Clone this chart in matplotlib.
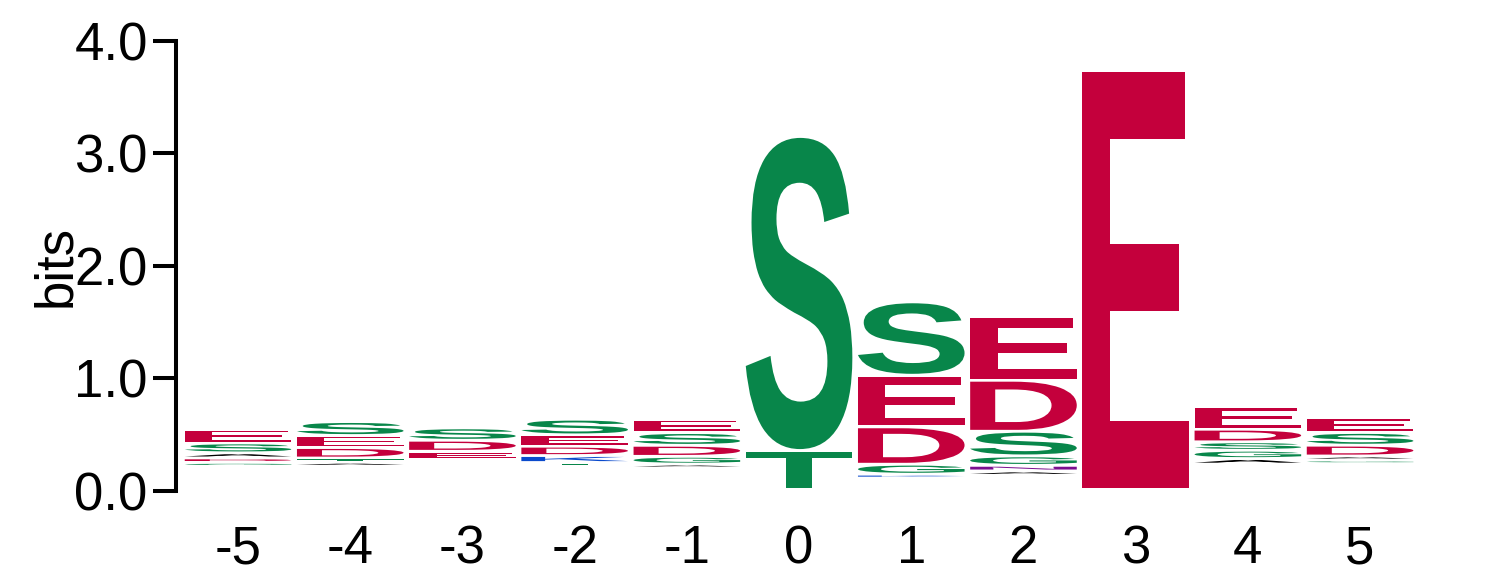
import matplotlib
matplotlib.use("Agg")
import matplotlib.pyplot as plt
from matplotlib.textpath import TextPath
from matplotlib.font_manager import FontProperties
from matplotlib.patches import PathPatch
from matplotlib.transforms import Affine2D

positions = [-5, -4, -3, -2, -1, 0, 1, 2, 3, 4, 5]

# residues in each stack, bottom -> top
letters = [
    ["G", "D", "A", "S", "E"],
    ["A", "T", "D", "E", "S"],
    ["E", "D", "S"],
    ["T", "K", "D", "E", "S"],
    ["A", "G", "D", "S", "E"],
    ["T", "S"],
    ["K", "G", "D", "E", "S"],
    ["T", "A", "N", "G", "S", "D", "E"],
    ["E"],
    ["A", "G", "S", "D", "E"],
    ["G", "A", "D", "S", "E"],
]

# letter heights in bits, same order
heights = [
    [0.035, 0.040, 0.045, 0.088, 0.122],
    [0.036, 0.038, 0.093, 0.107, 0.124],
    [0.075, 0.098, 0.110],
    [0.034, 0.062, 0.083, 0.101, 0.139],
    [0.034, 0.069, 0.098, 0.113, 0.118],
    [0.345, 2.791],
    [0.034, 0.089, 0.332, 0.459, 0.652],
    [0.030, 0.039, 0.050, 0.084, 0.219, 0.453, 0.564],
    [3.723],
    [0.049, 0.074, 0.075, 0.112, 0.199],
    [0.032, 0.036, 0.096, 0.113, 0.133],
]

# bits held by residues too small to be drawn
minor_bits = [0.204, 0.204, 0.263, 0.204, 0.190, 0.0, 0.100, 0.094, 0.0, 0.224, 0.228]

ytick_vals = [0, 1, 2, 3, 4]
ytick_labels = ["0.0", "1.0", "2.0", "3.0", "4.0"]
xtick_labels = ["-5", "-4", "-3", "-2", "-1", "0", "1", "2", "3", "4", "5"]

RED = "#C4003C"
GREEN = "#08864A"
BLUE = "#0A4ACC"
PURPLE = "#7A0E8F"
BLACK = "#000000"
colors = {}
for c in "STGYC":
    colors[c] = GREEN
for c in "NQ":
    colors[c] = PURPLE
for c in "KRH":
    colors[c] = BLUE
for c in "DE":
    colors[c] = RED

font = FontProperties(family="Liberation Sans", weight="bold")
gap = 0.025
width = 0.95


def draw_letter(ax, ch, x, y, h):
    # glyph sits at the top of its box, leaving a small gap underneath
    glyph_h = h - gap
    if glyph_h <= 0:
        return
    tp = TextPath((0, 0), ch, size=1, prop=font)
    bb = tp.get_extents()
    tr = (Affine2D().translate(-bb.x0, -bb.y0)
          .scale(width / bb.width, glyph_h / bb.height)
          .translate(x - width / 2, y + gap))
    ax.add_patch(PathPatch(tr.transform_path(tp),
                           facecolor=colors.get(ch, BLACK), edgecolor="none"))


plt.rcParams["font.family"] = ["Liberation Sans", "DejaVu Sans"]
fig = plt.figure(figsize=(14.86, 5.83), dpi=100)
ax = fig.add_axes([176 / 1486, 92.3 / 583, 1245 / 1486, 450 / 583])

for x, col, hs, base in zip(positions, letters, heights, minor_bits):
    y = base
    for ch, h in zip(col, hs):
        draw_letter(ax, ch, x, y, h)
        y += h

ax.set_xlim(-5.553, 5.543)
ax.set_ylim(0, 4)
for s in ["top", "right", "bottom"]:
    ax.spines[s].set_visible(False)
ax.spines["left"].set_linewidth(2.9)

ax.set_yticks(ytick_vals)
ax.set_yticklabels(ytick_labels)
ax.set_xticks(positions)
ax.set_xticklabels(xtick_labels)
ax.tick_params(axis="y", direction="out", length=16.8, width=2.9, labelsize=38, pad=3.6)
ax.tick_params(axis="x", length=0, labelsize=38, pad=24)

fig.text(56 / 1486, 1 - 266 / 583, "bits", rotation=90, ha="center", va="center", fontsize=38)

fig.savefig("out.png", dpi=100)
